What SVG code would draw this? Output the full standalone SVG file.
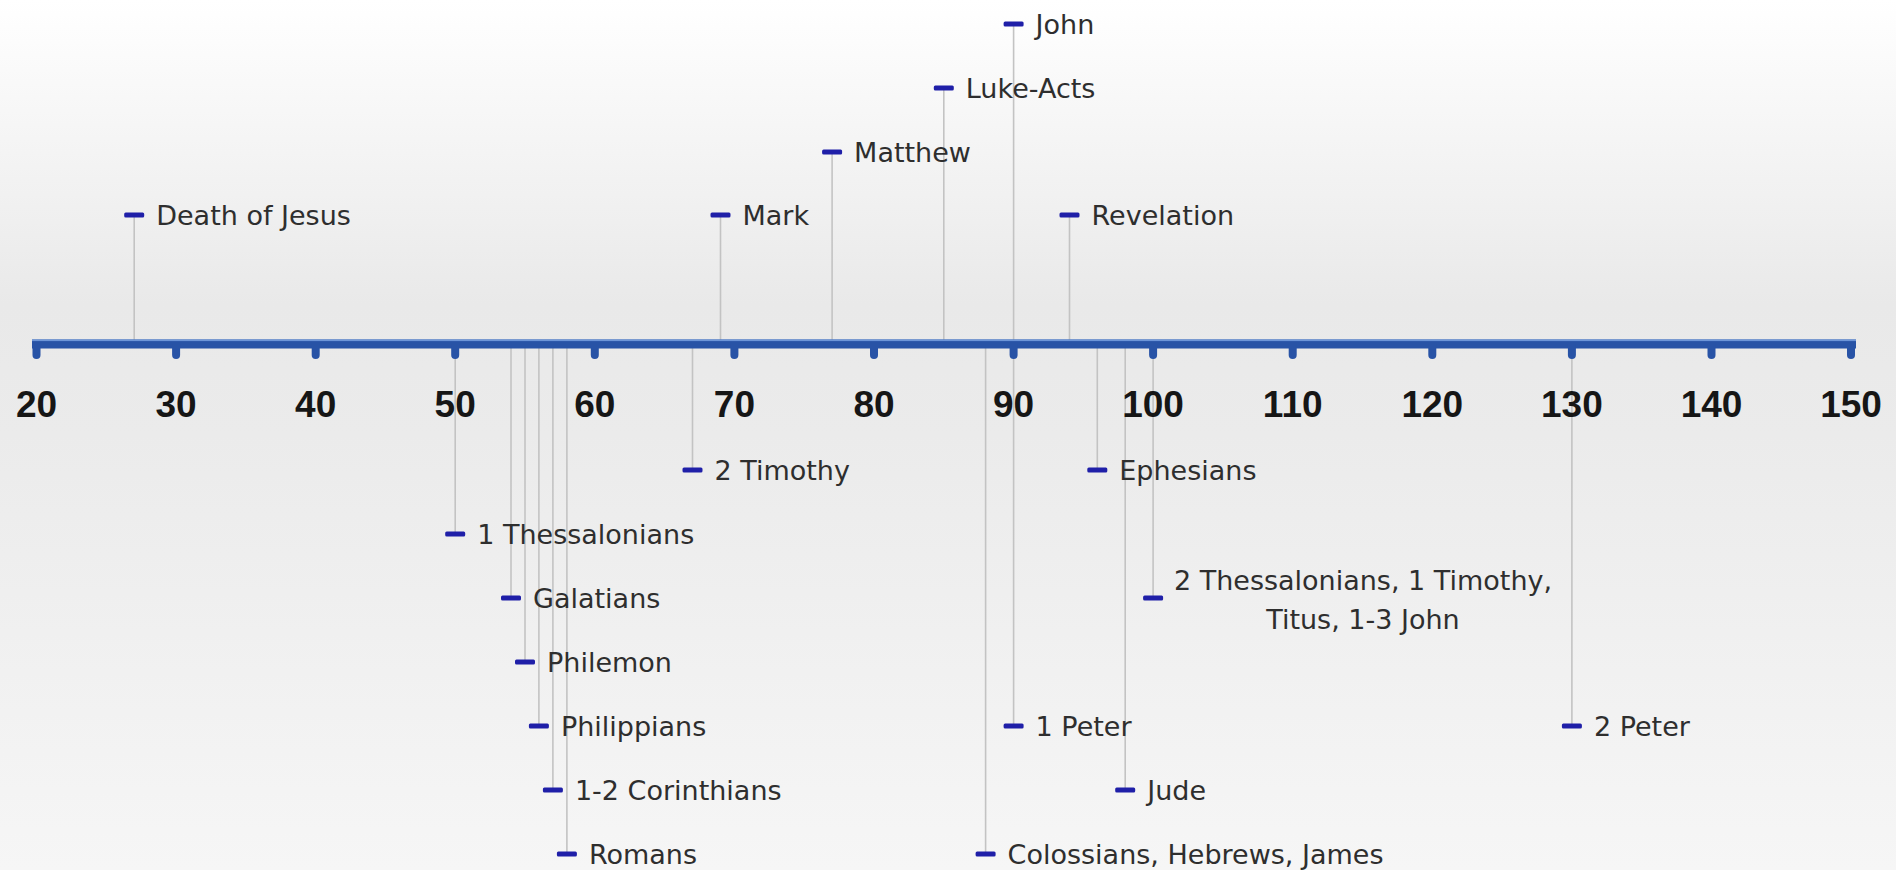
<svg xmlns="http://www.w3.org/2000/svg" width="1896" height="870" viewBox="0 0 1896 870">
<style>
.lbl{font-family:"DejaVu Sans","Verdana",sans-serif;font-size:27px;fill:#2e2e2e}
.yr{font-family:"Liberation Sans",Arial,sans-serif;font-size:37px;font-weight:bold;fill:#161616;text-anchor:middle}
.mk{fill:#1f1fa8}
.conn line{stroke:#c3c3c3;stroke-width:1.6}
.tick{fill:#2853a6}
</style>
<defs>
<linearGradient id="bg" x1="0" y1="0" x2="0" y2="1">
<stop offset="0" stop-color="#ffffff"/>
<stop offset="0.35" stop-color="#e9e9e9"/>
<stop offset="0.5" stop-color="#ebebeb"/>
<stop offset="1" stop-color="#f6f6f6"/>
</linearGradient>
<rect id="m" x="-10" y="-2.5" width="20" height="5" rx="1.5"/>
<path id="t" d="M-4,344 h8 v11 a4,4 0 0 1 -8,0 z"/>
</defs>
<rect width="1896" height="870" fill="url(#bg)"/>

<g id="connectors" class="conn">
<line x1="134.2" y1="215" x2="134.2" y2="344"/>
<line x1="720.5" y1="215" x2="720.5" y2="344"/>
<line x1="832.1" y1="152" x2="832.1" y2="344"/>
<line x1="943.8" y1="88" x2="943.8" y2="344"/>
<line x1="1013.6" y1="24" x2="1013.6" y2="344"/>
<line x1="1069.5" y1="215" x2="1069.5" y2="344"/>
<line x1="692.5" y1="344" x2="692.5" y2="470"/>
<line x1="1097.3" y1="344" x2="1097.3" y2="470"/>
<line x1="455.2" y1="344" x2="455.2" y2="534"/>
<line x1="511" y1="344" x2="511" y2="598"/>
<line x1="1153.1" y1="344" x2="1153.1" y2="598"/>
<line x1="525" y1="344" x2="525" y2="662"/>
<line x1="538.9" y1="344" x2="538.9" y2="726"/>
<line x1="1013.6" y1="344" x2="1013.6" y2="726"/>
<line x1="1571.9" y1="344" x2="1571.9" y2="726"/>
<line x1="552.9" y1="344" x2="552.9" y2="790"/>
<line x1="1125.2" y1="344" x2="1125.2" y2="790"/>
<line x1="566.9" y1="344" x2="566.9" y2="854"/>
<line x1="985.6" y1="344" x2="985.6" y2="854"/>
</g>

<g id="axis">
<rect x="32" y="339.5" width="1824" height="9" fill="#2853a6"/>
<rect x="32" y="339.5" width="1824" height="1.6" fill="#6d95d8"/>
<use href="#t" class="tick" x="36.5"/>
<use href="#t" class="tick" x="176.1"/>
<use href="#t" class="tick" x="315.7"/>
<use href="#t" class="tick" x="455.2"/>
<use href="#t" class="tick" x="594.8"/>
<use href="#t" class="tick" x="734.4"/>
<use href="#t" class="tick" x="874"/>
<use href="#t" class="tick" x="1013.6"/>
<use href="#t" class="tick" x="1153.1"/>
<use href="#t" class="tick" x="1292.7"/>
<use href="#t" class="tick" x="1432.3"/>
<use href="#t" class="tick" x="1571.9"/>
<use href="#t" class="tick" x="1711.5"/>
<use href="#t" class="tick" x="1851"/>
<text class="yr" x="36.5" y="417">20</text>
<text class="yr" x="176.1" y="417">30</text>
<text class="yr" x="315.7" y="417">40</text>
<text class="yr" x="455.2" y="417">50</text>
<text class="yr" x="594.8" y="417">60</text>
<text class="yr" x="734.4" y="417">70</text>
<text class="yr" x="874" y="417">80</text>
<text class="yr" x="1013.6" y="417">90</text>
<text class="yr" x="1153.1" y="417">100</text>
<text class="yr" x="1292.7" y="417">110</text>
<text class="yr" x="1432.3" y="417">120</text>
<text class="yr" x="1571.9" y="417">130</text>
<text class="yr" x="1711.5" y="417">140</text>
<text class="yr" x="1851" y="417">150</text>
</g>

<g id="death-of-jesus"><use href="#m" class="mk" x="134.2" y="215"/><text class="lbl" x="156.2" y="225">Death of Jesus</text></g>
<g id="mark"><use href="#m" class="mk" x="720.5" y="215"/><text class="lbl" x="742.5" y="225">Mark</text></g>
<g id="matthew"><use href="#m" class="mk" x="832.1" y="152"/><text class="lbl" x="854.1" y="162">Matthew</text></g>
<g id="luke-acts"><use href="#m" class="mk" x="943.8" y="88"/><text class="lbl" x="965.8" y="98">Luke-Acts</text></g>
<g id="john"><use href="#m" class="mk" x="1013.6" y="24"/><text class="lbl" x="1035.6" y="34">John</text></g>
<g id="revelation"><use href="#m" class="mk" x="1069.5" y="215"/><text class="lbl" x="1091.5" y="225">Revelation</text></g>
<g id="2-timothy"><use href="#m" class="mk" x="692.5" y="470"/><text class="lbl" x="714.5" y="480">2 Timothy</text></g>
<g id="ephesians"><use href="#m" class="mk" x="1097.3" y="470"/><text class="lbl" x="1119.3" y="480">Ephesians</text></g>
<g id="1-thessalonians"><use href="#m" class="mk" x="455.2" y="534"/><text class="lbl" x="477.2" y="544">1 Thessalonians</text></g>
<g id="galatians"><use href="#m" class="mk" x="511" y="598"/><text class="lbl" x="533" y="608">Galatians</text></g>
<g id="2-thessalonians"><use href="#m" class="mk" x="1153.1" y="598"/><text class="lbl" text-anchor="middle" x="1363" y="590">2 Thessalonians, 1 Timothy,</text><text class="lbl" text-anchor="middle" x="1363" y="629">Titus, 1-3 John</text></g>
<g id="philemon"><use href="#m" class="mk" x="525" y="662"/><text class="lbl" x="547" y="672">Philemon</text></g>
<g id="philippians"><use href="#m" class="mk" x="538.9" y="726"/><text class="lbl" x="560.9" y="736">Philippians</text></g>
<g id="1-peter"><use href="#m" class="mk" x="1013.6" y="726"/><text class="lbl" x="1035.6" y="736">1 Peter</text></g>
<g id="2-peter"><use href="#m" class="mk" x="1571.9" y="726"/><text class="lbl" x="1593.9" y="736">2 Peter</text></g>
<g id="1-2-corinthians"><use href="#m" class="mk" x="552.9" y="790"/><text class="lbl" x="574.9" y="800">1-2 Corinthians</text></g>
<g id="jude"><use href="#m" class="mk" x="1125.2" y="790"/><text class="lbl" x="1147.2" y="800">Jude</text></g>
<g id="romans"><use href="#m" class="mk" x="566.9" y="854"/><text class="lbl" x="588.9" y="864">Romans</text></g>
<g id="colossians-hebrews-james"><use href="#m" class="mk" x="985.6" y="854"/><text class="lbl" x="1007.6" y="864">Colossians, Hebrews, James</text></g>
</svg>
